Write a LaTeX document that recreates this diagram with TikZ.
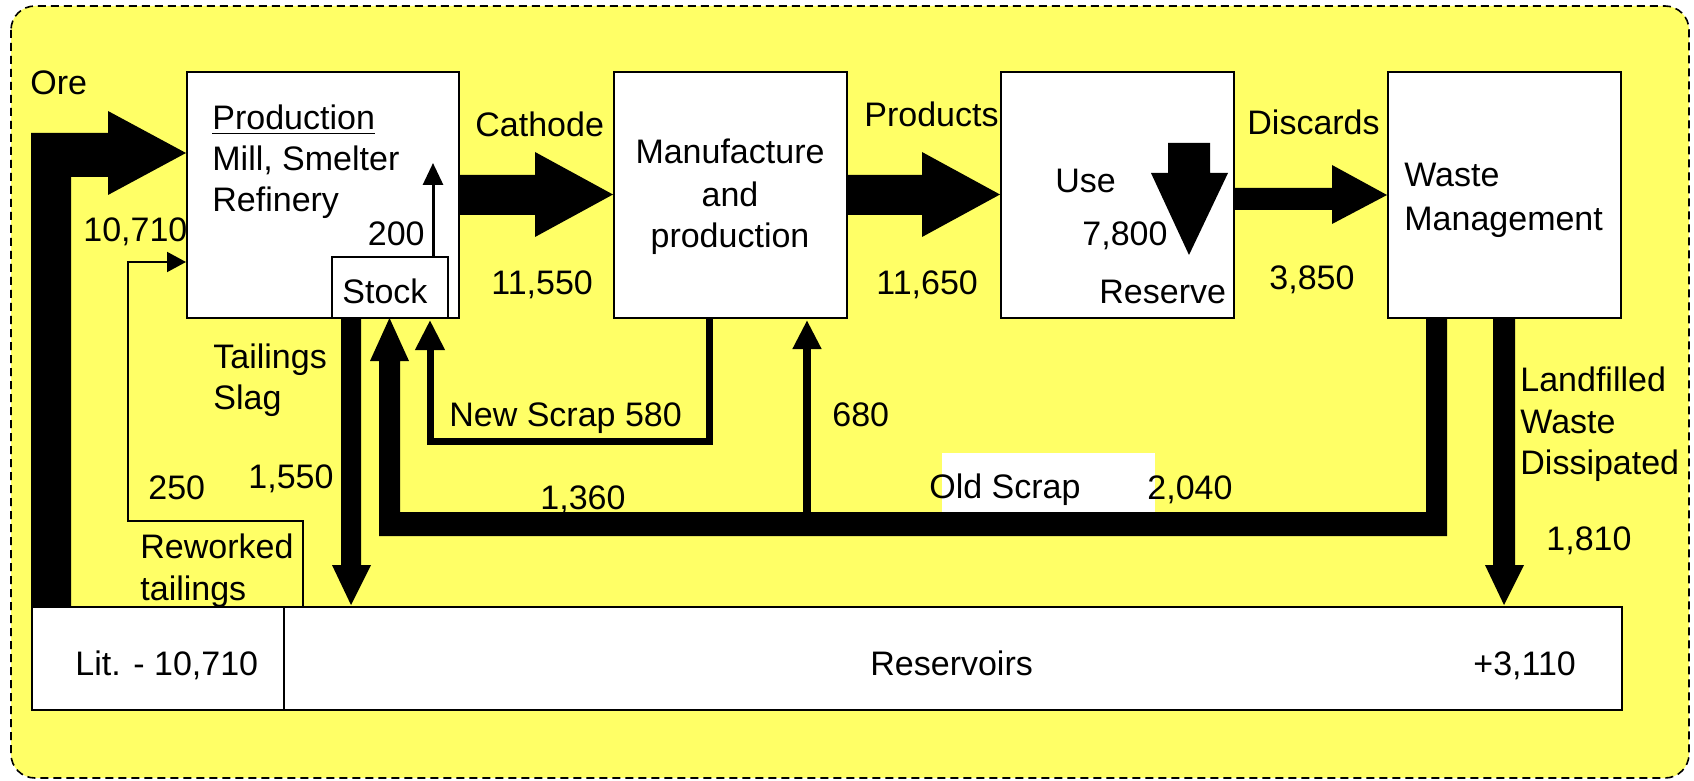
\documentclass[tikz,border=0pt]{standalone}
\usepackage{fontspec}
\setmainfont{Liberation Sans}
\usetikzlibrary{arrows.meta,calc}
\definecolor{bgyellow}{RGB}{255,255,102}
\begin{document}
\begin{tikzpicture}[x=0.5pt,y=-0.5pt,
  box/.style={draw=black,line width=1pt,fill=white,anchor=north west,inner sep=0pt},
  bigbox/.style={box,minimum width=116.5pt,minimum height=123pt},
  lbl/.style={anchor=base west,inner sep=0pt,font=\fontsize{17}{20}\selectfont},
  clbl/.style={lbl,anchor=base},
  flow/.style={fill=black},
]
\useasboundingbox (0,0) rectangle (1694,781);
\draw[dash pattern=on 4pt off 2.5pt, line width=0.8pt, fill=bgyellow, rounded corners=12pt] (11,6) rectangle (1689,778);

% boxes
\node[box,minimum width=136pt,minimum height=123pt] (prod) at (186,71) {};
\node[box,minimum width=58pt,minimum height=30.5pt] (stock) at (331,256) {};
\node[bigbox] (manu) at (613,71) {};
\node[bigbox] (use) at (1000,71) {};
\node[bigbox] (waste) at (1387,71) {};
\node[box,minimum width=126pt,minimum height=51.5pt] (lit) at (31,606) {};
\node[box,minimum width=669pt,minimum height=51.5pt] (res) at (283,606) {};

% thick flows
\fill[flow] (lit.north west) -- (31,133) -- (108,133) -- (108,111) -- (prod.west |- 0,153) -- (108,195) -- (108,177) -- (71,177) -- (71,606) -- cycle;
\fill[flow] (prod.east |- 0,175) -- (535,175) -- (535,152) -- (manu.west |- 0,194.5) -- (535,237) -- (535,215) -- (prod.east |- 0,215) -- cycle;
\fill[flow] (manu.east |- 0,175) -- (922,175) -- (922,152) -- (use.west |- 0,194.5) -- (922,237) -- (922,215) -- (manu.east |- 0,215) -- cycle;
\fill[flow] (use.east |- 0,188) -- (1332,188) -- (1332,165) -- (waste.west |- 0,195) -- (1332,224) -- (1332,210) -- (use.east |- 0,210) -- cycle;
\fill[flow] (1168,143) -- (1210,143) -- (1210,173) -- (1228,173) -- (1189,255) -- (1151,173) -- (1168,173) -- cycle;
\fill[flow] (stock.south -| 341,0) -- (361,317) -- (361,565) -- (371,565) -- (351,605) -- (332,565) -- (341,565) -- cycle;
\fill[flow] (waste.south -| 1493,0) -- (1515,317) -- (1515,565) -- (1524,565) -- (1504,605) -- (1485,565) -- (1493,565) -- cycle;
\fill[flow] (waste.south -| 1447,0) -- (1447,536) -- (379,536) -- (379,361) -- (370,361) -- (389.5,318) -- (409,361) -- (400,361) -- (400,512) -- (1426,512) -- (1426,317) -- cycle;

% thin flows
\draw[line width=1pt,-{Triangle[length=9.5pt,width=10pt]}] ($(res.north west)+(20,0)$) -- ++(0,-85) -- ++(-175,0) |- ($(prod.north west)+(0,191)$);
\draw[line width=1.5pt,-{Triangle[length=11pt,width=10pt]}] ($(stock.north west)+(102,0)$) -- ++(0,-93);
\draw[line width=3.5pt,-{Triangle[length=15pt,width=14pt]}] ($(manu.south west)+(96,0)$) -- ++(0,122) -| ($(stock.south west)+(99,1)$);
\draw[line width=4pt,-{Triangle[length=14.5pt,width=13.5pt]}] (807,514) -- ($(manu.south west)+(194,1)$);

% white patch for old scrap label
\fill[white] (942,453) rectangle (1155,512);

% labels
\node[lbl] (tore) at (30,95) {Ore};
\node[lbl] (tprod) at (212,130) {\underline{Production}};
\node[lbl] (tmill) at (212,171) {Mill, Smelter};
\node[lbl] (tref) at (212,212) {Refinery};
\node[lbl] (t10710) at (83,242) {10,710};
\node[lbl,anchor=base east] (t200) at (425,246) {200};
\node[lbl] (tstock) at (342,303) {Stock};
\node[lbl] (tcath) at (475,137) {Cathode};
\node[lbl] (t11550) at (491,294) {11,550};
\node[clbl] (tman1) at (730,164) {Manufacture};
\node[clbl] (tman2) at (730,206) {and};
\node[clbl] (tman3) at (730,248) {production};
\node[lbl] (tprods) at (864,127) {Products};
\node[lbl] (t11650) at (876,294) {11,650};
\node[lbl] (tuse) at (1055,192) {Use};
\node[lbl] (t7800) at (1082,245) {7,800};
\node[lbl] (tres) at (1099,303) {Reserve};
\node[lbl] (tdisc) at (1247,135) {Discards};
\node[lbl] (t3850) at (1269,290) {3,850};
\node[lbl] (twaste) at (1404,187) {Waste};
\node[lbl] (tmgmt) at (1404,230) {Management};
\node[lbl] (ttail) at (213,368) {Tailings};
\node[lbl] (tslag) at (213,409) {Slag};
\node[lbl] (t250) at (148,499) {250};
\node[lbl] (t1550) at (248,488) {1,550};
\node[lbl] (trew1) at (140,558) {Reworked};
\node[lbl] (trew2) at (140,600) {tailings};
\node[lbl] (tlit) at (75,675) {Lit. - 10,710};
\node[lbl] (tresv) at (870,675) {Reservoirs};
\node[lbl] (t3110) at (1473,675) {+3,110};
\node[lbl] (tnew) at (449,426) {New Scrap 580};
\node[lbl] (t680) at (832,426) {680};
\node[lbl] (t1360) at (540,509) {1,360};
\node[lbl] (told) at (929,498) {Old Scrap};
\node[lbl] (t2040) at (1147,499) {2,040};
\node[lbl] (tland1) at (1520,391) {Landfilled};
\node[lbl] (tland2) at (1520,433) {Waste};
\node[lbl] (tland3) at (1520,474) {Dissipated};
\node[lbl] (t1810) at (1546,550) {1,810};
\end{tikzpicture}
\end{document}
